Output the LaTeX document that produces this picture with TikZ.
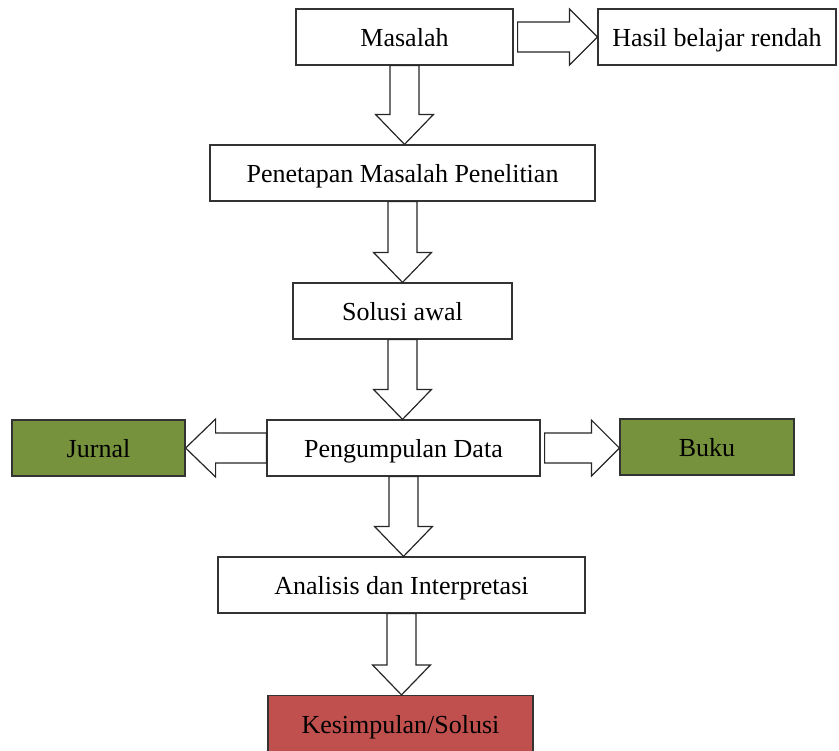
\documentclass[tikz,border=0pt]{standalone}
\usepackage{fontspec}
\setmainfont{Liberation Serif}
\usetikzlibrary{calc}
\definecolor{flowgreen}{RGB}{118,146,60}
\definecolor{flowred}{RGB}{192,80,77}
\tikzset{
  flow box/.style={draw=black!80,line width=0.6pt,fill=white,minimum height=28pt,inner sep=0pt,
    text height=9.5pt,text depth=0pt},
  flow green/.style={flow box,fill=flowgreen},
  flow red/.style={flow box,fill=flowred},
  flow arrow/.style={draw=black!85,line width=0.6pt,fill=white,line join=miter}
}
\newcommand{\flowdown}[2]{\draw[flow arrow] let \p1=(#1.south), \p2=(#2.north) in
  (\x1-7.25pt,\y1) -- (\x1-7.25pt,\y2+15pt) -- (\x1-14.5pt,\y2+15pt) -- (\x1,\y2)
  -- (\x1+14.5pt,\y2+15pt) -- (\x1+7.25pt,\y2+15pt) -- (\x1+7.25pt,\y1) -- cycle;}
\newcommand{\flowright}[2]{\draw[flow arrow] let \p1=(#1.east), \p2=(#2.west) in
  (\x1+2pt,\y1+7.5pt) -- (\x2-14pt,\y1+7.5pt) -- (\x2-14pt,\y1+14pt) -- (\x2,\y1)
  -- (\x2-14pt,\y1-14pt) -- (\x2-14pt,\y1-7.5pt) -- (\x1+2pt,\y1-7.5pt) -- cycle;}
\newcommand{\flowleft}[2]{\draw[flow arrow] let \p1=(#1.west), \p2=(#2.east) in
  (\x1,\y1+7.5pt) -- (\x2+15pt,\y1+7.5pt) -- (\x2+15pt,\y1+14.5pt) -- (\x2,\y1)
  -- (\x2+15pt,\y1-14.5pt) -- (\x2+15pt,\y1-7.5pt) -- (\x1,\y1-7.5pt) -- cycle;}

\begin{document}
\begin{tikzpicture}[x=0.5pt,y=-0.5pt,font=\fontsize{13}{15}\selectfont]
  \useasboundingbox (0,0) rectangle (839,750);
  \node[flow box,minimum width=108.5pt] (masalah) at (404.5,37) {Masalah};
  \node[flow box,minimum width=119pt] (hasil) at (717,37) {Hasil belajar rendah};
  \node[flow box,minimum width=192.5pt] (penetapan) at (402.5,173) {Penetapan Masalah Penelitian};
  \node[flow box,minimum width=109.5pt] (solusi) at (402.5,311) {Solusi awal};
  \node[flow box,minimum width=136.5pt] (pengumpulan) at (403.5,448) {Pengumpulan Data};
  \node[flow green,minimum width=86.5pt] (jurnal) at (98.5,448) {Jurnal};
  \node[flow green,minimum width=87pt] (buku) at (707,447) {Buku};
  \node[flow box,minimum width=183.5pt] (analisis) at (401.5,585) {Analisis dan Interpretasi};
  \node[flow red,minimum width=132.5pt] (kesimpulan) at (400.5,723.5) {Kesimpulan/Solusi};

  \flowright{masalah}{hasil}
  \flowdown{masalah}{penetapan}
  \flowdown{penetapan}{solusi}
  \flowdown{solusi}{pengumpulan}
  \flowleft{pengumpulan}{jurnal}
  \flowright{pengumpulan}{buku}
  \flowdown{pengumpulan}{analisis}
  \flowdown{analisis}{kesimpulan}
\end{tikzpicture}
\end{document}
